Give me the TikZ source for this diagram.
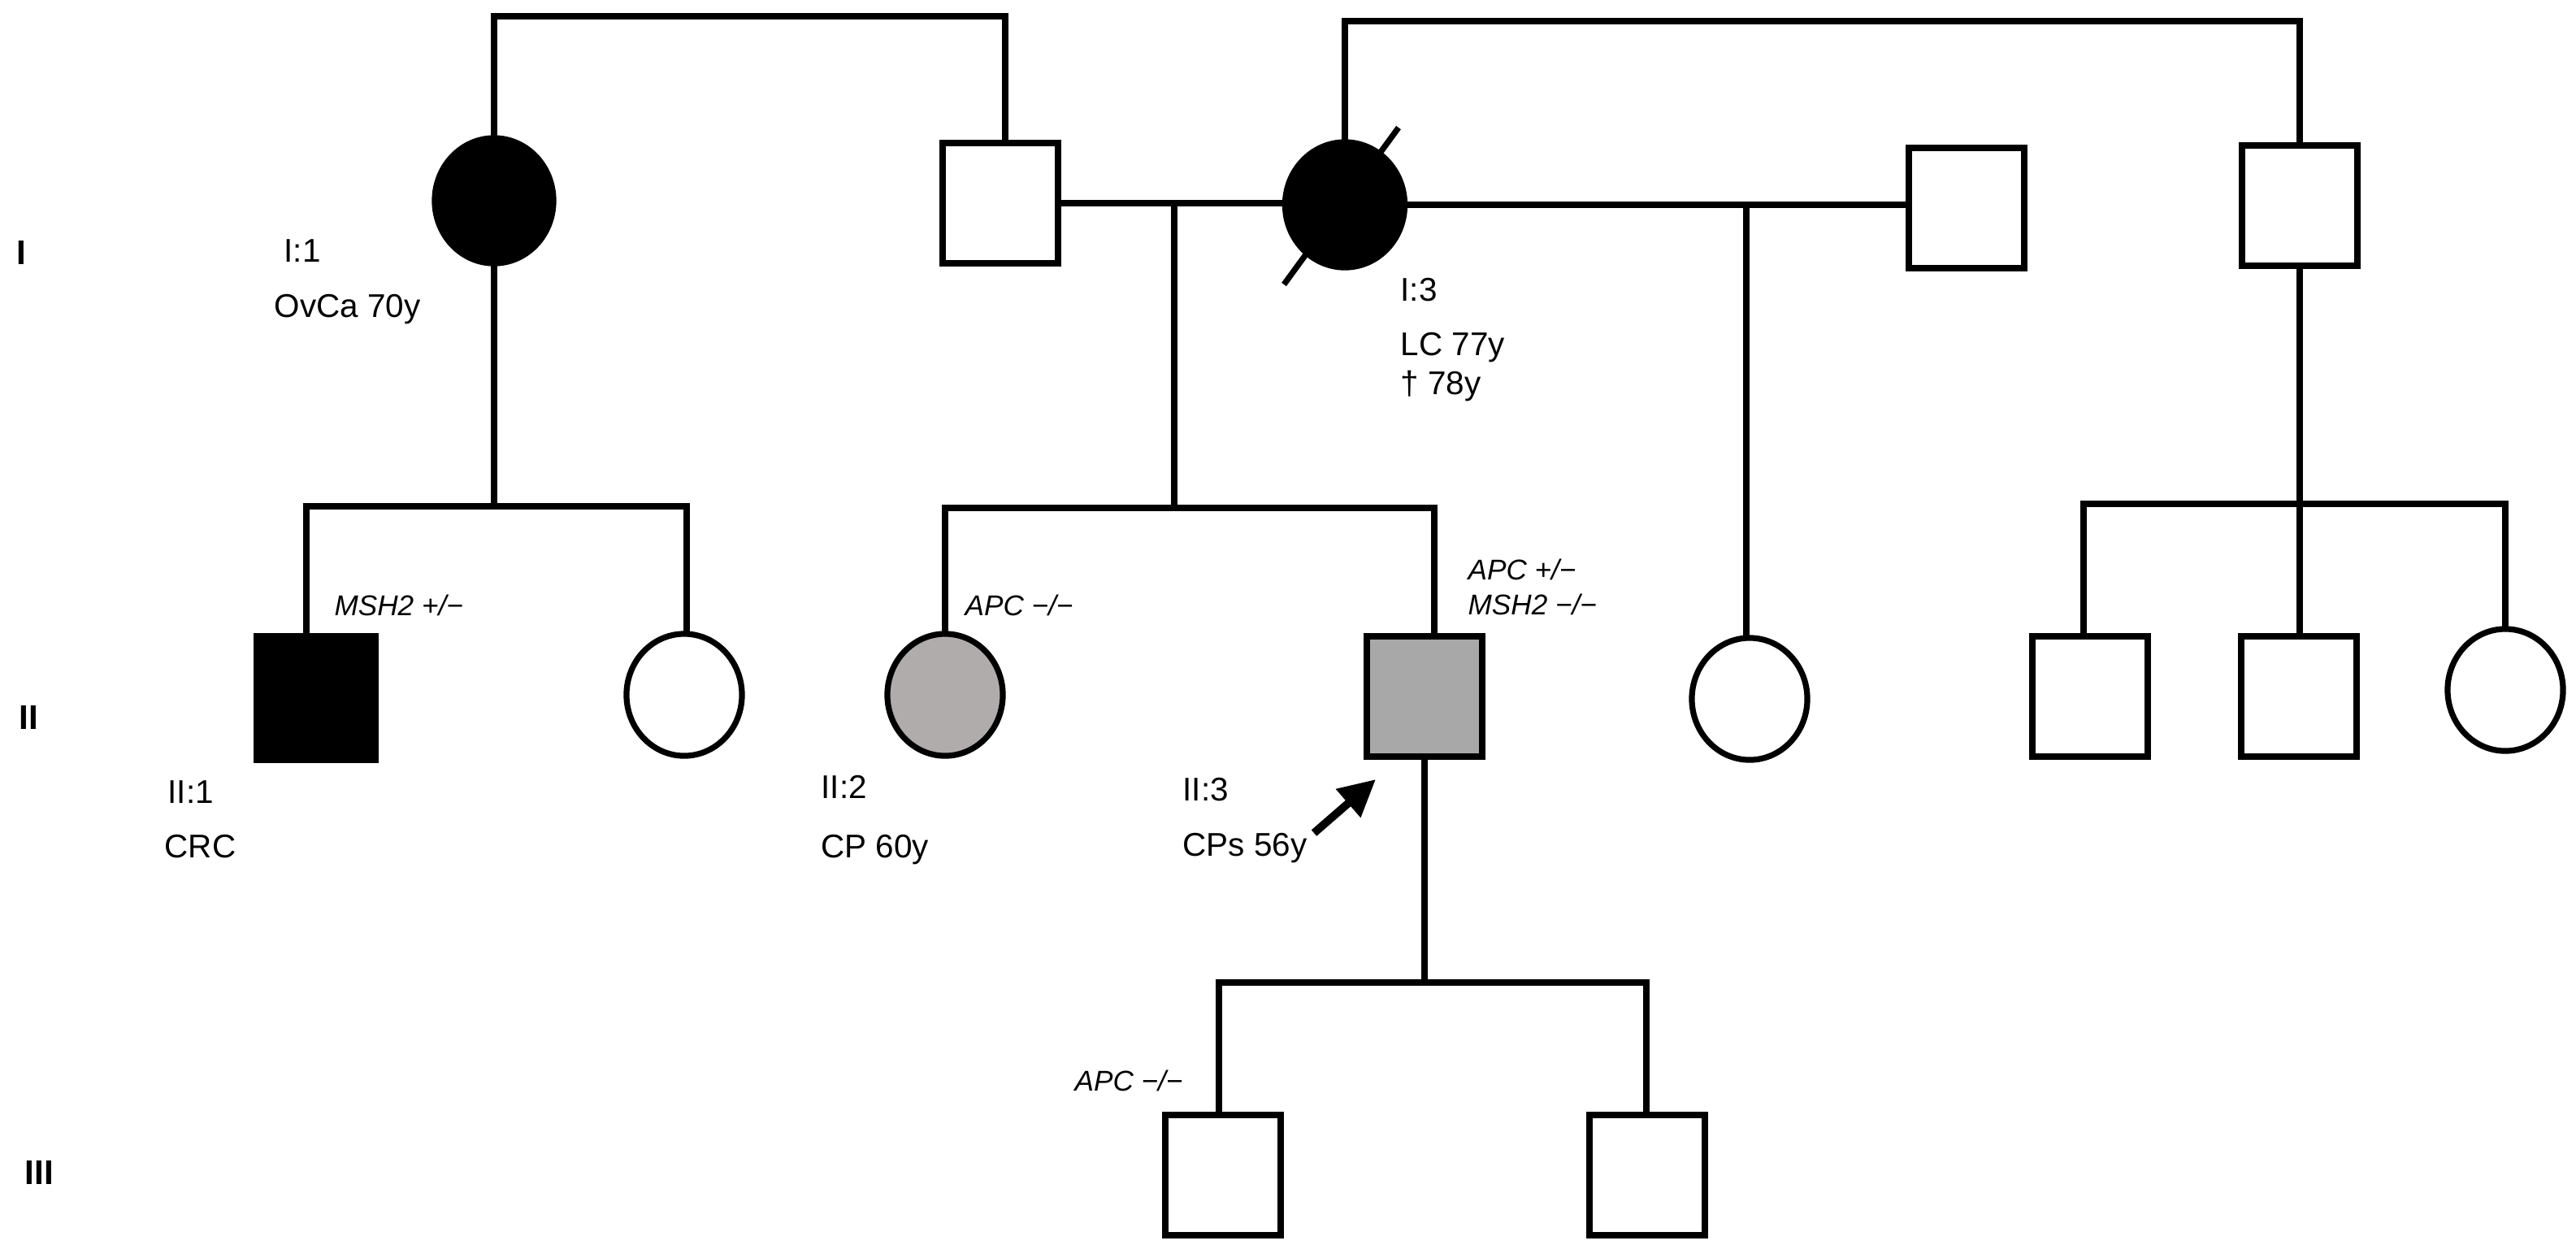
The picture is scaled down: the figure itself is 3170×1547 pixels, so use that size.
\documentclass[tikz,border=0pt]{standalone}
\usepackage{fontspec}
\setmainfont{Liberation Sans}
\usetikzlibrary{shapes.geometric,arrows.meta,calc}
\definecolor{affgrayA}{HTML}{B0ACAB}
\definecolor{affgrayB}{HTML}{A8A8A8}
\begin{document}
\begin{tikzpicture}[x=0.01cm,y=-0.01cm, line width=2.05pt,
  male/.style={draw, rectangle, minimum width=1.42cm, minimum height=1.48cm, inner sep=0pt, outer sep=0pt},
  female/.style={draw, ellipse, minimum width=1.42cm, minimum height=1.50cm, inner sep=0pt, outer sep=0pt},
  lbl/.style={anchor=base west, inner sep=0pt, font=\fontsize{11.5pt}{13pt}\selectfont},
  geno/.style={anchor=base west, inner sep=0pt, font=\fontsize{10pt}{12pt}\selectfont\itshape},
  gen/.style={anchor=base west, inner sep=0pt, font=\fontsize{12pt}{14pt}\selectfont\bfseries}]
\fill[white] (0,0) rectangle (3170,1547);
\useasboundingbox (0,0) rectangle (3170,1547);

% generation I
\node[female, fill=black, minimum width=1.46cm, minimum height=1.54cm] (I1) at (608,247) {};
\node[male] (I2) at (1231,250) {};
\node[female, fill=black, minimum width=1.47cm, minimum height=1.54cm] (I3) at (1655,252) {};
\node[male] (I4) at (2420,256) {};
\node[male] (I5) at (2830,253) {};

% generation II
\node[male, fill=black, minimum width=1.46cm, minimum height=1.52cm] (II1) at (389,859) {};
\node[female] (II1b) at (842,855) {};
\node[female, fill=affgrayA] (II2) at (1163,855) {};
\node[male, fill=affgrayB] (II3) at (1753,857) {};
\node[female] (II4) at (2153,860) {};
\node[male] (II5) at (2572,857) {};
\node[male] (II6) at (2829,857) {};
\node[female] (II7) at (3083,849) {};

% generation III
\node[male] (III1) at (1505,1446) {};
\node[male] (III2) at (2027,1446) {};

% sibship of I:1 and I:2
\coordinate (t1R) at (1237,20);
\draw (I1.north) |- (t1R) -- (t1R |- I2.north);
% sibship of I:3 and I:5
\coordinate (t2R) at (2830,26);
\draw (I3.north) |- (t2R) -- (I5.north);

% deceased slash
\draw ($(I3)+(-75,98)$) -- ($(I3)+(66,-95)$);

% marriage I:2 -- I:3
\draw (I2.east) -- (I2.east -| I3.west);
\coordinate (m1) at (1445,251);
\coordinate (s2) at (1445,625);
\draw (m1) -- (s2);
\coordinate (s2R) at (1765,625);
\draw (II2.north) |- (s2R) -- (s2R |- II3.north);

% marriage I:3 -- I:4
\draw (I3.east) -- (I3.east -| I4.west);
\coordinate (m2) at (2149,253);
\draw (m2) -- (m2 |- II4.north);

% children of I:1
\coordinate (s1) at (608,623);
\draw (I1.south) -- (s1);
\coordinate (s1L) at (377,623);
\coordinate (s1R) at (845,623);
\draw (s1L |- II1.north) -- (s1L) -- (s1R) -- (s1R |- II1b.north);

% children of II:3
\coordinate (s3) at (1753,1209);
\draw (II3.south) -- (s3);
\coordinate (s3L) at (1500,1209);
\coordinate (s3R) at (2026,1209);
\draw (s3L |- III1.north) -- (s3L) -- (s3R) -- (s3R |- III2.north);

% children of I:5
\draw (I5.south) -- (I5.south |- II6.north);
\coordinate (s4L) at (2564,620);
\coordinate (s4R) at (3083,620);
\draw (s4L |- II5.north) -- (s4L) -- (s4R) -- (II7.north);

% proband arrow
\coordinate (arT) at (1617,1025);
\coordinate (arH) at (1693,959);
\draw[line width=2.8pt, -{Triangle[length=0.45cm, width=0.44cm]}] (arT) -- (arH);

% generation labels
\node[gen] (gI) at (17,325) {I};
\node[gen] (gII) at (20,897) {II};
\node[gen] (gIII) at (27,1457) {III};

% individual labels
\node[lbl] (lI1) at (346,322) {I:1};
\node[lbl] (dI1) at (334,390) {OvCa 70y};
\node[lbl] (lI3) at (1720,370) {I:3};
\node[lbl] (dI3a) at (1720,437) {LC 77y};
\node[lbl] (dI3b) at (1720,485) {† 78y};

\node[lbl] (lII1) at (203,988) {II:1};
\node[lbl] (dII1) at (199,1055) {CRC};
\node[lbl] (lII2) at (1007,982) {II:2};
\node[lbl] (dII2) at (1007,1055) {CP 60y};
\node[lbl] (lII3) at (1452,985) {II:3};
\node[lbl] (dII3) at (1452,1053) {CPs 56y};

% genotype labels
\node[geno] (gII1) at (408,757) {MSH2 +/−};
\node[geno] (gII2) at (1184,757) {APC −/−};
\node[geno] (gII3a) at (1803,713) {APC +/−};
\node[geno] (gII3b) at (1803,756) {MSH2 −/−};
\node[geno] (gIII1) at (1319,1342) {APC −/−};
\end{tikzpicture}
\end{document}
